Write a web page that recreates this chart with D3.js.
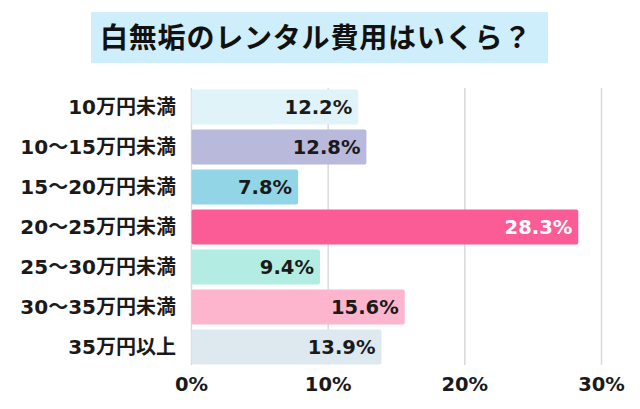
<!DOCTYPE html>
<html>
<head>
<meta charset="utf-8">
<script src="https://cdn.jsdelivr.net/npm/d3@7"></script>
<style>
  body { margin: 0; background: #fff; }
  text { font-family: "DejaVu Sans", "Noto Sans CJK JP", sans-serif; font-weight: 700; }
</style>
</head>
<body>
<script>
const width = 640;
const height = 409;

const title = "白無垢のレンタル費用はいくら？";
const categories = ["10万円未満", "10〜15万円未満", "15〜20万円未満", "20〜25万円未満", "25〜30万円未満", "30〜35万円未満", "35万円以上"];
const values = [12.2, 12.8, 7.8, 28.3, 9.4, 15.6, 13.9];
const barColors = ["#e0f3f9", "#b9b9dc", "#91d5e6", "#fc5c96", "#b2ece2", "#fdb4cd", "#dde9ef"];
const tickValues = [0, 10, 20, 30];

const svg = d3.select("body")
    .append("svg")
    .attr("width", width)
    .attr("height", height);

// title box
svg.append("rect")
    .attr("x", 91)
    .attr("y", 12)
    .attr("width", 457)
    .attr("height", 51)
    .attr("fill", "#cdeefa");

svg.append("text")
    .attr("x", 316)
    .attr("y", 38)
    .attr("text-anchor", "middle")
    .attr("dominant-baseline", "central")
    .attr("font-size", 28)
    .attr("letter-spacing", 0.8)
    .attr("fill", "#111")
    .text(title);

const x = d3.scaleLinear()
    .domain([0, 30])
    .range([191.5, 601.5]);

const y = d3.scaleBand()
    .domain(categories)
    .range([87, 367])
    .paddingInner(0.125)
    .paddingOuter(0.0625);

// grid lines
svg.append("g")
    .selectAll("line")
    .data(tickValues)
    .join("line")
    .attr("x1", d => x(d))
    .attr("x2", d => x(d))
    .attr("y1", 88)
    .attr("y2", 365)
    .attr("stroke", "#d9d9d9")
    .attr("stroke-width", 1.5);

// bars
svg.append("g")
    .selectAll("rect")
    .data(values)
    .join("rect")
    .attr("x", x(0))
    .attr("y", (d, i) => y(categories[i]))
    .attr("width", d => x(d) - x(0))
    .attr("height", y.bandwidth())
    .attr("rx", 2)
    .attr("fill", (d, i) => barColors[i]);

// value labels
svg.append("g")
    .selectAll("text")
    .data(values)
    .join("text")
    .attr("x", d => x(d) - 6)
    .attr("y", (d, i) => y(categories[i]) + y.bandwidth() / 2)
    .attr("text-anchor", "end")
    .attr("dominant-baseline", "central")
    .attr("font-size", 19.5)
    .attr("fill", d => d === d3.max(values) ? "#fff" : "#1a1a1a")
    .text(d => d.toFixed(1) + "%");

// category labels
svg.append("g")
    .selectAll("text")
    .data(categories)
    .join("text")
    .attr("x", 176)
    .attr("y", d => y(d) + y.bandwidth() / 2)
    .attr("text-anchor", "end")
    .attr("dominant-baseline", "central")
    .attr("font-size", 20)
    .attr("fill", "#1a1a1a")
    .text(d => d);

// x axis tick labels
svg.append("g")
    .selectAll("text")
    .data(tickValues)
    .join("text")
    .attr("x", d => x(d))
    .attr("y", 384)
    .attr("text-anchor", "middle")
    .attr("dominant-baseline", "central")
    .attr("font-size", 19.5)
    .attr("fill", "#1a1a1a")
    .text(d => d + "%");
</script>
</body>
</html>
